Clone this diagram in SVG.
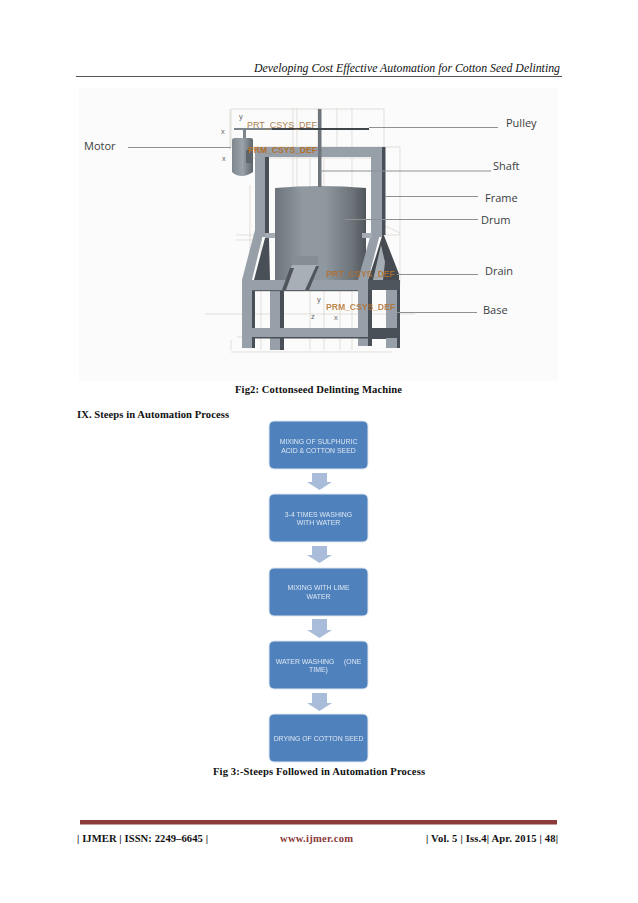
<svg xmlns="http://www.w3.org/2000/svg" width="638" height="903" viewBox="0 0 638 903">
<style>
.serif{font-family:"Liberation Serif","Times New Roman",serif;fill:#111}
.b{font-weight:700;font-size:10.6px}
.lab{font-family:"Open Sans","Noto Sans",sans-serif;font-size:11px;fill:#3a3d40}
.leader{stroke:#8e9092;stroke-width:1;fill:none}
.cad{font-family:"Liberation Sans",Arial,sans-serif;font-size:9.5px;fill:#ab8250}
.cad2{font-family:"Liberation Sans",Arial,sans-serif;font-size:9.5px;fill:#b4702c;font-weight:700}
.ax{font-family:"Liberation Sans",Arial,sans-serif;font-size:7.5px;fill:#666}
.wire{stroke:#d8d2ca;stroke-width:.7;fill:none}
.steel{fill:#97a0a9}
.dark{fill:#4a5056}
.box{fill:#4f81bd;stroke:#dfe7f1;stroke-width:1}
.boxt{font-family:"Liberation Sans",Arial,sans-serif;font-size:6.9px;fill:#dce6f2;text-anchor:middle}
.arr{fill:#a9bcd9}
</style>
<defs>
<linearGradient id="drum" x1="0" x2="1" y1="0" y2="0">
<stop offset="0" stop-color="#6d747b"/><stop offset=".3" stop-color="#9098a0"/><stop offset=".55" stop-color="#8f979f"/><stop offset=".85" stop-color="#6c7379"/><stop offset="1" stop-color="#50565c"/>
</linearGradient>
<linearGradient id="motor" x1="0" x2="1" y1="0" y2="0">
<stop offset="0" stop-color="#7e868e"/><stop offset=".5" stop-color="#9aa2aa"/><stop offset="1" stop-color="#5e656c"/>
</linearGradient>
<filter id="soft" x="-5%" y="-5%" width="110%" height="110%"><feGaussianBlur stdDeviation=".5"/></filter>
<filter id="softt" x="-5%" y="-20%" width="110%" height="140%"><feGaussianBlur stdDeviation=".35"/></filter>
</defs>
<rect width="638" height="903" fill="#fff"/>

<g id="header">
<text class="serif" x="254" y="72" font-size="11.5" font-style="italic" textLength="306" lengthAdjust="spacingAndGlyphs">Developing Cost Effective Automation for Cotton Seed Delinting</text>
<rect x="76" y="76" width="486" height="1" fill="#555"/>
</g>

<rect id="figure-panel" x="79" y="88" width="479" height="293" fill="#fbfbfb"/>

<g id="machine" filter="url(#soft)">
<g id="wireframe">
<rect class="wire" x="231" y="109" width="153" height="38"/>
<path class="wire" d="M293 108V280M297 108V280M318 108V150M337 108V147M352 108V150M384 147H400V285M250 185V290M261 185V350"/>
<path class="wire" d="M230 109V150M232 170H240M243 158H385M310 158V350M324 158V350M340 200V350M352 158V350"/>
<path class="wire" d="M231 352H392M231 350V340M372 220L400 233"/>
<path class="wire" d="M236 235H400M236 240H262M205 314H415M237 337H400" stroke="#c8c8c4"/>
</g>
<g id="drum-body"><path d="M275 188Q320 184 366 188V280H275Z" fill="url(#drum)"/></g>
<g id="frame">
<rect class="steel" x="255" y="147" width="128" height="10"/>
<rect class="steel" x="255" y="147" width="10" height="90"/>
<rect class="dark" x="265" y="157" width="4" height="80"/>
<rect class="steel" x="371" y="147" width="11" height="90"/>
<rect class="dark" x="382" y="147" width="3.500" height="88"/>
</g>
<g id="base">
<path class="steel" d="M255 230H264L252 280H242Z"/>
<path class="dark" d="M265 238L269 238L270 280H254Z"/>
<path d="M265 233H275V238H265Z" fill="#a5adb4"/>
<path class="steel" d="M372 230H381L368 280H358Z"/>
<path d="M383 233L399 274V280H368L376 256Z" fill="#454b51"/>
<path d="M381 245L385 262L383 280H373Z" fill="#a5adb4"/>
<path d="M362 233H372V238H362Z" fill="#a5adb4"/>
<rect class="steel" x="242" y="280" width="126" height="10"/>
<rect x="368" y="280" width="32" height="10" fill="#4f555b"/>
<rect class="steel" x="242" y="290" width="10" height="58"/>
<rect class="dark" x="252" y="290" width="3" height="58"/>
<rect class="steel" x="270" y="290" width="10" height="60"/>
<rect class="dark" x="280" y="290" width="4" height="60"/>
<rect class="steel" x="358" y="280" width="10" height="66"/>
<rect class="dark" x="368" y="290" width="4" height="56"/>
<rect class="steel" x="386" y="290" width="11" height="58"/>
<rect class="dark" x="397" y="290" width="3" height="58"/>
<rect class="steel" x="252" y="328" width="116" height="10"/>
<rect class="dark" x="252" y="337" width="116" height="1.500"/>
<rect class="dark" x="368" y="328" width="32" height="11"/>
<rect class="steel" x="386" y="338" width="11" height="10"/>
<rect x="252" y="290" width="106" height="1.200" fill="#5a6066"/>
</g>
<g id="shaft"><rect x="318" y="109" width="3.500" height="78" fill="#6e757c"/></g>
<g id="chute">
<rect x="292" y="256" width="26" height="10" fill="#858d95"/>
<path d="M292 265H318L308 290H283Z" fill="#a8afb6"/>
<path d="M290 268H294L286 290H282Z" fill="#50565c"/>
<path d="M316 266H319L309 290H305Z" fill="#50565c"/>
</g>
<g id="pulley"><rect x="234" y="128" width="135" height="2" fill="#7d858c"/><rect x="272" y="128" width="97" height="2" fill="#3f444a"/></g>
<g id="motor-body">
<rect x="243" y="130" width="3" height="8" fill="#7d858c"/>
<path d="M232 140Q232 138 235 138H250Q253 138 253 140V172Q247 176 242 176Q236 176 232 172Z" fill="url(#motor)"/>
<rect x="246" y="150" width="7" height="13" fill="#5e656c"/>
</g>
</g>

<g id="labels">
<text class="cad" x="247" y="128" textLength="70" lengthAdjust="spacingAndGlyphs">PRT_CSYS_DEF</text>
<text class="cad2" x="248" y="153" textLength="69" lengthAdjust="spacingAndGlyphs">PRM_CSYS_DEF</text>
<text class="cad2" x="326" y="277" opacity=".85" textLength="69" lengthAdjust="spacingAndGlyphs">PRT_CSYS_DEF</text>
<text class="cad2" x="326" y="310" opacity=".85" textLength="69" lengthAdjust="spacingAndGlyphs">PRM_CSYS_DEF</text>
<text class="ax" x="239" y="119">y</text>
<text class="ax" x="221" y="134">x</text>
<text class="ax" x="222" y="161">x</text>
<text class="ax" x="317" y="302">y</text>
<text class="ax" x="311" y="319">z</text>
<text class="ax" x="334" y="320">x</text>
<text class="lab" x="84" y="150">Motor</text>
<text class="lab" x="506" y="127">Pulley</text>
<text class="lab" x="493" y="170">Shaft</text>
<text class="lab" x="485" y="202">Frame</text>
<text class="lab" x="481" y="224">Drum</text>
<text class="lab" x="485" y="275">Drain</text>
<text class="lab" x="483" y="314">Base</text>
</g>

<g id="connectors">
<path class="leader" d="M128 147.500H231"/>
<path class="leader" d="M369 127.500H498"/>
<path class="leader" d="M320 171H491"/>
<path class="leader" d="M385 196.500H478"/>
<path class="leader" d="M345 219.500H478" stroke="#666"/>
<path class="leader" d="M397 274.500H478"/>
<path class="leader" d="M397 312.500H477"/>
<path class="arr" d="M312 473H327V482H332L319.500 490L307 482H312Z"/>
<path class="arr" d="M312 546H327V555H332L319.500 563L307 555H312Z"/>
<path class="arr" d="M312 619H327V630H332L319.500 638L307 630H312Z"/>
<path class="arr" d="M312 693H327V703H332L319.500 711L307 703H312Z"/>
</g>

<g id="caption-fig2"><text class="serif b" x="235" y="393" textLength="167">Fig2: Cottonseed Delinting Machine</text></g>
<g id="section-heading"><text class="serif b" x="77" y="418" textLength="152">IX. Steeps in Automation Process</text></g>

<g id="step1"><rect class="box" x="269" y="421" width="99" height="48" rx="5"/><g filter="url(#softt)"><text class="boxt" x="318.500" y="444">MIXING OF SULPHURIC</text><text class="boxt" x="318.500" y="453">ACID &amp; COTTON SEED</text></g></g>
<g id="step2"><rect class="box" x="269" y="494" width="99" height="48" rx="5"/><g filter="url(#softt)"><text class="boxt" x="318.500" y="517">3-4 TIMES WASHING</text><text class="boxt" x="318.500" y="525">WITH WATER</text></g></g>
<g id="step3"><rect class="box" x="269" y="568" width="99" height="48" rx="5"/><g filter="url(#softt)"><text class="boxt" x="318.500" y="590">MIXING WITH LIME</text><text class="boxt" x="318.500" y="599">WATER</text></g></g>
<g id="step4"><rect class="box" x="269" y="641" width="99" height="48" rx="5"/><g filter="url(#softt)"><text class="boxt" x="318.500" y="664" xml:space="preserve">WATER WASHING     (ONE</text><text class="boxt" x="318.500" y="672">TIME)</text></g></g>
<g id="step5"><rect class="box" x="269" y="714" width="99" height="48" rx="5"/><g filter="url(#softt)"><text class="boxt" x="318.500" y="741">DRYING OF COTTON SEED</text></g></g>

<g id="caption-fig3"><text class="serif b" x="213" y="775" textLength="212">Fig 3:-Steeps Followed in Automation Process</text></g>

<g id="footer">
<rect x="80" y="820" width="477" height="4.500" fill="#8c3a3a"/>
<text class="serif b" x="77" y="842" textLength="131">| IJMER | ISSN: 2249–6645 |</text>
<text class="serif b" x="280" y="842" style="fill:#8c3a3a" textLength="73">www.ijmer.com</text>
<text class="serif b" x="426" y="842" textLength="132">| Vol. 5 | Iss.4| Apr. 2015 | 48|</text>
</g>
</svg>
